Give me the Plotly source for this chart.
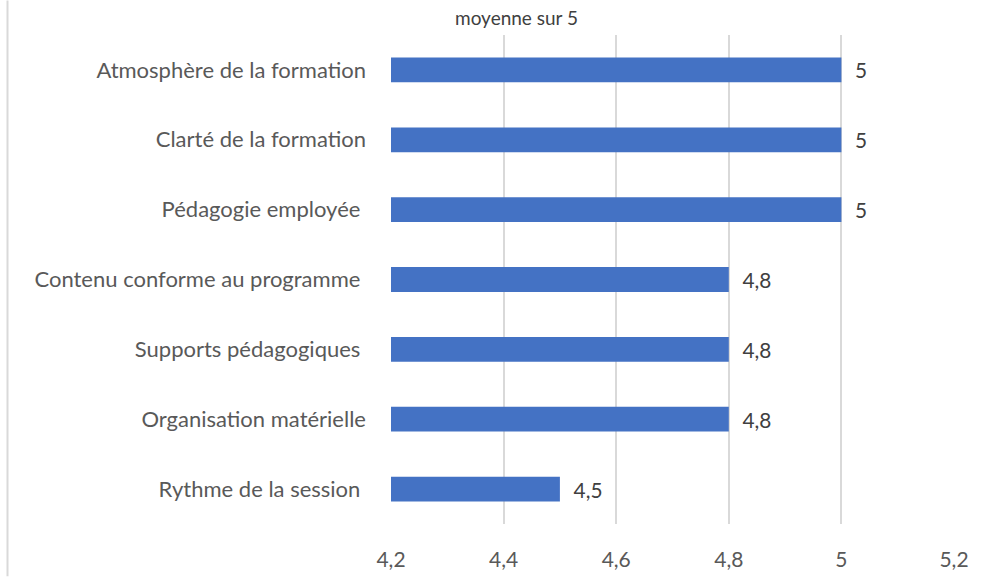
import plotly.graph_objects as go

categories = [
    "Atmosphère de la formation",
    "Clarté de la formation",
    "Pédagogie employée\u00a0",
    "Contenu conforme au programme\u00a0",
    "Supports pédagogiques\u00a0",
    "Organisation matérielle",
    "Rythme de la session\u00a0",
]
values = [5, 5, 5, 4.8, 4.8, 4.8, 4.5]
x_ticks = [4.2, 4.4, 4.6, 4.8, 5.0, 5.2]
x_tick_labels = ["4,2", "4,4", "4,6", "4,8", "5", "5,2"]
title_text = "moyenne sur 5"
axis_min = 4.2

FONT = "Lato, 'Open Sans', sans-serif"
W, H = 1003, 583
L, R, T, B = 391, 49, 35, 53
pw, ph = W - L - R, H - T - B

labels = ["\u00a0\u00a0" + f"{v:g}".replace(".", ",") for v in values]

fig = go.Figure(go.Bar(
    y=categories, x=[v - axis_min for v in values], base=axis_min,
    orientation="h",
    marker=dict(color="#4472C4", line=dict(width=0)),
    text=labels, textposition="outside", cliponaxis=False,
    textfont=dict(family=FONT, size=21, color="#404040"),
    hoverinfo="skip",
))

fig.update_layout(
    width=W, height=H,
    margin=dict(l=L, r=R, t=T, b=B, pad=0),
    paper_bgcolor="white", plot_bgcolor="white",
    showlegend=False,
    bargap=0.645,
    font=dict(family=FONT, color="#595959"),
    annotations=[dict(
        text=title_text, xref="paper", yref="paper",
        x=(516 - L) / pw, y=1 + (T - 17) / ph, xanchor="center", yanchor="middle",
        showarrow=False, font=dict(family=FONT, size=19, color="#404040"),
    )],
    shapes=[dict(
        type="line", xref="paper", yref="paper",
        x0=(7.5 - L) / pw, x1=(7.5 - L) / pw, y0=-B / ph, y1=1 + T / ph,
        line=dict(color="#d9d9d9", width=2),
    )],
)
fig.update_xaxes(
    range=[4.2, 5.2], tickvals=x_ticks, ticktext=x_tick_labels,
    showgrid=True, gridcolor="#d9d9d9", gridwidth=1.5,
    zeroline=False, showline=False, ticks="",
    ticklabelstandoff=21,
    tickfont=dict(family=FONT, size=21, color="#595959"),
    fixedrange=True,
)
fig.update_yaxes(
    autorange="reversed", showgrid=False, zeroline=False,
    showline=False, ticks="", ticklabelstandoff=24,
    tickfont=dict(family=FONT, size=22, color="#595959"),
    fixedrange=True,
)
fig.write_html("out.html", config={"displayModeBar": False})
